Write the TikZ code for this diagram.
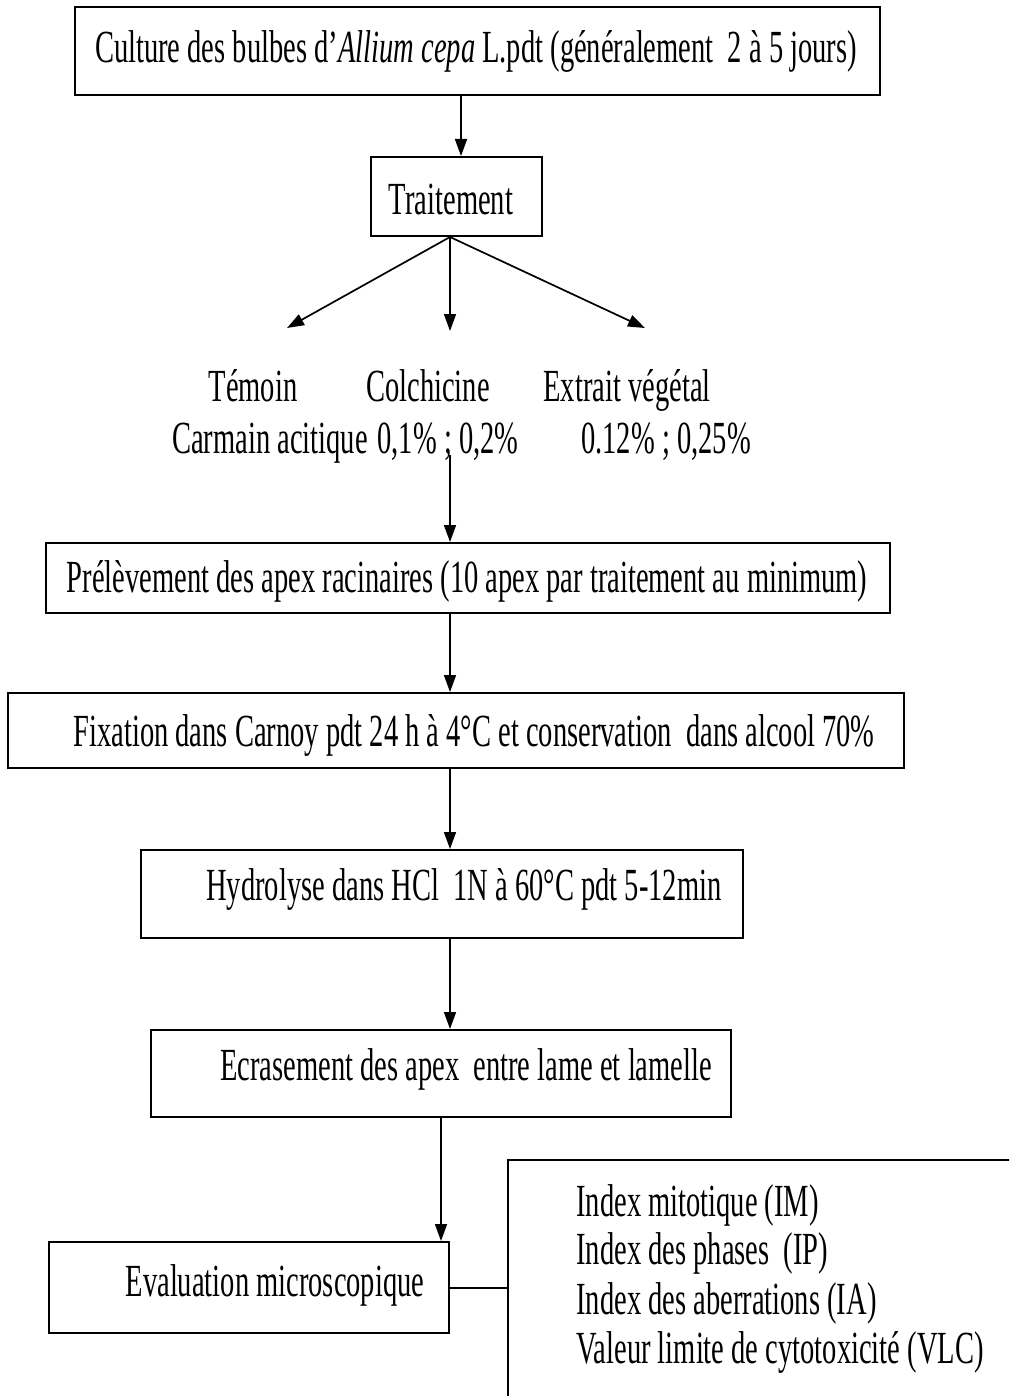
\documentclass[tikz,border=0pt]{standalone}
\usepackage{fontspec}
\setmainfont{Liberation Serif}[FakeStretch=0.62]
\usetikzlibrary{arrows.meta}

\tikzset{
  box/.style={draw, line width=1pt, inner sep=0pt, font=\fontsize{23}{27}\selectfont},
  txt/.style={inner sep=0pt, font=\fontsize{23}{27}\selectfont},
  arr/.style={-{Triangle[length=8.5pt,width=6pt]}, line width=0.85pt},
}

\begin{document}
\begin{tikzpicture}[x=0.5pt,y=-0.5pt]
  \useasboundingbox (0,0) rectangle (1009,1396);
  \clip (0,0) rectangle (1009,1396);

  % boxes
  \node[box, minimum width=402.5pt, minimum height=44pt] (cult) at (477.5,51) {};
  \node[box, minimum width=85.5pt, minimum height=39.5pt] (trait) at (456.5,196.5) {};
  \node[box, minimum width=422pt, minimum height=35pt] (prel) at (468,578) {};
  \node[box, minimum width=448pt, minimum height=37.5pt] (fix) at (456,730.5) {};
  \node[box, minimum width=301pt, minimum height=44pt] (hyd) at (442,894) {};
  \node[box, minimum width=290pt, minimum height=43.5pt] (ecr) at (441,1073.5) {};
  \node[box, minimum width=200pt, minimum height=45.5pt] (eval) at (249,1287.5) {};
  \node[box, minimum width=296pt, minimum height=170pt] (idx) at (804,1330) {};

  % texts
  \node[txt] (cultt) at (476,51)
    {Culture des bulbes d’\textit{Allium cepa} L.pdt (généralement~ 2 à 5 jours)};
  \node[txt] (traitt) at (451,199) {Traitement};
  \node[txt] (prelt) at (467,581)
    {Prélèvement des apex racinaires (10 apex par traitement au minimum)};
  \node[txt] (fixt) at (474,735) {Fixation dans Carnoy pdt 24 h à 4°C et conservation~ dans alcool 70\%};
  \node[txt] (hydt) at (464,889) {Hydrolyse dans HCl~ 1N à 60°C pdt 5-12min};
  \node[txt] (ecrt) at (466,1069) {Ecrasement des apex~ entre lame et lamelle};
  \node[txt] (evalt) at (275,1285) {Evaluation microscopique};

  \node[txt, anchor=base] (tem) at (253,401) {Témoin};
  \node[txt, anchor=base] (colch) at (428,401) {Colchicine};
  \node[txt, anchor=base] (extr) at (627,401) {Extrait végétal};
  \node[txt, anchor=base] (carm) at (270,453) {Carmain acitique};
  \node[txt, anchor=base] (dcol) at (448,453) {0,1\% ; 0,2\%};
  \node[txt, anchor=base] (dext) at (666,453) {0.12\% ; 0,25\%};

  \node[txt, anchor=west] (im) at (576,1205) {Index mitotique (IM)};
  \node[txt, anchor=west] (ip) at (576,1253) {Index des phases~ (IP)};
  \node[txt, anchor=west] (ia) at (576,1303) {Index des aberrations (IA)};
  \node[txt, anchor=west] (vlc) at (576,1352) {Valeur limite de cytotoxicité (VLC)};

  % arrows
  \coordinate (c1) at (461,0);
  \coordinate (c2) at (450,0);
  \coordinate (c3) at (441,0);
  \coordinate (split) at (trait.south -| c2);
  \coordinate (tipL) at (287,328);
  \coordinate (tipM) at (450,331);
  \coordinate (tipR) at (645,328);
  \coordinate (dstart) at (450,455);

  \draw[arr] (cult.south -| c1) -- (trait.north -| c1);
  \draw[arr] (split) -- (tipL);
  \draw[arr] (split) -- (tipM);
  \draw[arr] (split) -- (tipR);
  \draw[arr] (dstart) -- (prel.north -| dstart);
  \draw[arr] (prel.south -| c2) -- (fix.north -| c2);
  \draw[arr] (fix.south -| c2) -- (hyd.north -| c2);
  \draw[arr] (hyd.south -| c2) -- (ecr.north -| c2);
  \draw[arr] (ecr.south -| c3) -- (eval.north -| c3);
  \draw[line width=1pt] (eval.east) -- (eval.east -| idx.west);
\end{tikzpicture}
\end{document}
